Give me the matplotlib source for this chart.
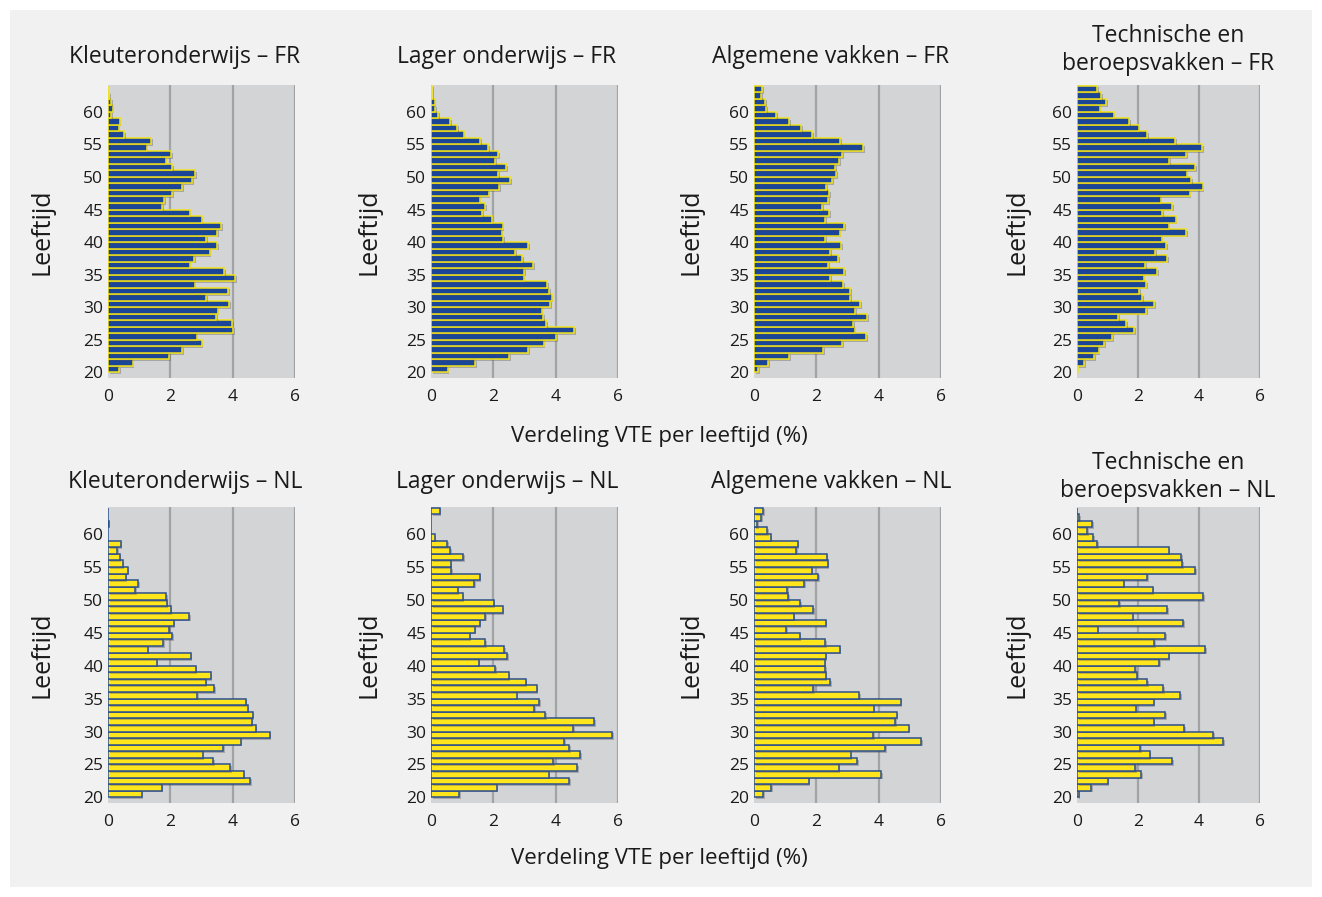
import matplotlib
matplotlib.use('Agg')
import matplotlib.pyplot as plt
import matplotlib.patheffects as pe
from matplotlib.patches import Rectangle
import numpy as np

plt.rcParams['font.family'] = ['Open Sans', 'DejaVu Sans']

# ages 20..63, share of FTE per age (%)
ages = np.arange(20, 64)

kleuter_fr = [0.35, 0.79, 1.97, 2.37, 3.00, 2.84, 4.01, 3.99, 3.48, 3.52,
              3.88, 3.15, 3.86, 2.78, 4.07, 3.72, 2.62, 2.77, 3.26, 3.50,
              3.15, 3.50, 3.63, 3.00, 2.62, 1.74, 1.81, 2.06, 2.38, 2.70,
              2.80, 2.06, 1.85, 2.02, 1.24, 1.39, 0.52, 0.34, 0.37, 0.10,
              0.15, 0.10, 0.03, 0.0]
lager_fr = [0.53, 1.42, 2.50, 3.12, 3.61, 4.02, 4.60, 3.70, 3.60, 3.55,
            3.83, 3.87, 3.80, 3.72, 2.97, 2.98, 3.28, 2.93, 2.71, 3.12,
            2.31, 2.27, 2.30, 1.95, 1.64, 1.73, 1.56, 1.85, 2.19, 2.55,
            2.15, 2.42, 2.05, 2.15, 1.84, 1.58, 1.05, 0.84, 0.62, 0.23,
            0.14, 0.12, 0.04, 0.04]
algemeen_fr = [0.13, 0.46, 1.13, 2.22, 2.83, 3.60, 3.23, 3.19, 3.63, 3.25,
               3.41, 3.09, 3.09, 2.87, 2.45, 2.90, 2.37, 2.71, 2.45, 2.80,
               2.29, 2.75, 2.90, 2.29, 2.42, 2.19, 2.37, 2.42, 2.32, 2.51,
               2.64, 2.61, 2.74, 2.82, 3.51, 2.77, 1.87, 1.51, 1.13, 0.71,
               0.39, 0.36, 0.22, 0.27]
technisch_fr = [0.02, 0.24, 0.57, 0.71, 0.88, 1.15, 1.88, 1.62, 1.35, 2.27,
                2.54, 2.13, 2.04, 2.27, 2.19, 2.62, 2.24, 2.96, 2.57, 2.93,
                2.78, 3.57, 3.01, 3.23, 2.80, 3.12, 2.74, 3.69, 4.12, 3.75,
                3.60, 3.87, 3.02, 3.59, 4.10, 3.21, 2.30, 2.02, 1.71, 1.20,
                0.74, 0.95, 0.80, 0.67]

kleuter_nl = [1.08, 1.72, 4.56, 4.35, 3.91, 3.37, 3.04, 3.69, 4.26, 5.19,
              4.74, 4.61, 4.64, 4.48, 4.42, 2.86, 3.41, 3.13, 3.29, 2.81,
              1.56, 2.65, 1.27, 1.76, 2.06, 1.96, 2.11, 2.61, 2.01, 1.88,
              1.86, 0.88, 0.96, 0.57, 0.63, 0.47, 0.37, 0.30, 0.41, 0.0,
              0.0, 0.02, 0.0, 0.0]
lager_nl = [0.90, 2.11, 4.44, 3.78, 4.70, 3.93, 4.79, 4.44, 4.27, 5.81,
            4.57, 5.24, 3.66, 3.32, 3.48, 2.75, 3.39, 3.04, 2.49, 2.06,
            1.53, 2.44, 2.34, 1.73, 1.24, 1.40, 1.56, 1.73, 2.30, 2.01,
            1.02, 0.86, 1.39, 1.56, 0.65, 0.63, 1.03, 0.62, 0.51, 0.12,
            0.0, 0.0, 0.0, 0.28]
algemeen_nl = [0.29, 0.56, 1.75, 4.07, 2.72, 3.30, 3.10, 4.20, 5.36, 3.82,
               4.96, 4.53, 4.58, 3.84, 4.71, 3.38, 1.90, 2.45, 2.30, 2.28,
               2.27, 2.30, 2.75, 2.28, 1.46, 1.03, 2.30, 1.27, 1.89, 1.48,
               1.10, 1.06, 1.62, 2.05, 1.85, 2.36, 2.33, 1.35, 1.40, 0.53,
               0.43, 0.11, 0.23, 0.29]
technisch_nl = [0.05, 0.46, 1.01, 2.11, 1.90, 3.13, 2.38, 2.08, 4.79, 4.47,
                3.52, 2.51, 2.90, 1.92, 2.51, 3.38, 2.83, 2.31, 1.96, 1.90,
                2.70, 3.00, 4.20, 2.54, 2.88, 0.68, 3.47, 1.82, 2.95, 1.38,
                4.14, 2.48, 1.53, 2.29, 3.88, 3.44, 3.41, 3.01, 0.66, 0.53,
                0.33, 0.49, 0.07, 0.0]

titles_fr = ['Kleuteronderwijs – FR', 'Lager onderwijs – FR',
             'Algemene vakken – FR', 'Technische en\nberoepsvakken – FR']
titles_nl = ['Kleuteronderwijs – NL', 'Lager onderwijs – NL',
             'Algemene vakken – NL', 'Technische en\nberoepsvakken – NL']
series_fr = [kleuter_fr, lager_fr, algemeen_fr, technisch_fr]
series_nl = [kleuter_nl, lager_nl, algemeen_nl, technisch_nl]

x_ticks = [0, 2, 4, 6]
y_ticks = [20, 25, 30, 35, 40, 45, 50, 55, 60]
x_label = 'Verdeling VTE per leeftijd (%)'
y_label = 'Leeftijd'

W, H = 1322, 897
BLUE = '#1b4597'
YELLOW = '#ffe51c'
PANEL_BG = '#d3d4d6'
GRID = '#a2a3a5'
TXT = '#1a1a1a'


def fx(px):
    return px / W


def fy(py):
    return 1 - py / H


fig = plt.figure(figsize=(W / 100, H / 100), dpi=100, facecolor='white')
fig.patches.append(Rectangle((fx(10), fy(887)), fx(1302), (877) / H,
                             transform=fig.transFigure, facecolor='#f1f1f1',
                             edgecolor='none', zorder=-10))

# pixel boxes of the panels: (left, right)
cols = [(108, 295), (431, 618), (754, 941), (1077, 1260)]
rows = [(85, 378), (507, 803)]
title_x = [185, 507, 831, 1168]
title_y = [57, 482]
ylabel_x = [55, 382, 704, 1030]


def draw_panel(left, right, top, bottom, values, face, edge, title, tx, ty, ylx):
    ax = fig.add_axes([fx(left), fy(bottom), fx(right - left), (bottom - top) / H])
    ax.set_facecolor(PANEL_BG)
    for xv in x_ticks[1:]:
        ax.axvline(xv, color=GRID, lw=1.6, zorder=0.5)
    bars = ax.barh(ages, values, height=1.0, align='edge', color=face,
                   edgecolor=edge, linewidth=1.1, zorder=2)
    for b in bars:
        b.set_path_effects([pe.SimplePatchShadow(offset=(1.2, -1.2),
                                                 shadow_rgbFace='#555555', alpha=0.35),
                            pe.Normal()])
    ax.set_xlim(0, 6)
    ax.set_ylim(19.15, 64.1)
    ax.set_xticks(x_ticks)
    ax.set_yticks(y_ticks)
    ax.tick_params(length=0, labelsize=12.5, colors=TXT)
    ax.tick_params(axis='x', pad=8)
    ax.tick_params(axis='y', pad=3.5)
    for s in ax.spines.values():
        s.set_visible(False)
    ax.set_ylabel(y_label, fontsize=18, color=TXT)
    ax.yaxis.set_label_coords((ylx - left) / (right - left), 0.5)
    fig.text(fx(tx), fy(ty), title, ha='center', va='center', fontsize=16.5,
             color=TXT, linespacing=1.2)
    return ax


for i in range(4):
    l, r = cols[i]
    t, b = rows[0]
    draw_panel(l, r, t, b, series_fr[i], BLUE, '#f2e21a', titles_fr[i],
               title_x[i], title_y[0] - (7 if '\n' in titles_fr[i] else 0), ylabel_x[i])
    t, b = rows[1]
    draw_panel(l, r, t, b, series_nl[i], YELLOW, '#2c4f8e', titles_nl[i],
               title_x[i], title_y[1] - (5 if '\n' in titles_nl[i] else 0), ylabel_x[i])

fig.text(fx(659), fy(436), x_label, ha='center', va='center', fontsize=16, color=TXT)
fig.text(fx(659), fy(858), x_label, ha='center', va='center', fontsize=16, color=TXT)

fig.savefig('out.png', dpi=100, facecolor='white')
